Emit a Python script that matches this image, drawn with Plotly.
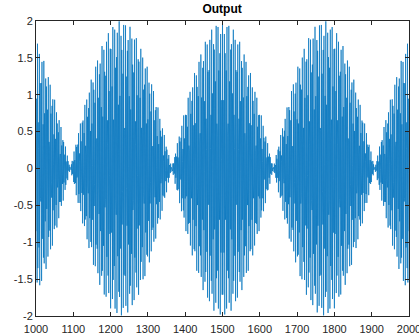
import numpy as np
import plotly.graph_objects as go

# Sample indices shown on the axis
n = np.arange(1000, 2001)

# Two equal-amplitude tones (cycles/sample) that beat against each other
tone_freqs = [0.4115, 0.4115 + 1 / 272]
tone_amps = [1.0, 1.0]
ref_sample = 1500  # both tones in phase here

y = sum(a * np.cos(2 * np.pi * f * (n - ref_sample)) for f, a in zip(tone_freqs, tone_amps))

x_ticks = list(range(1000, 2001, 100))
y_ticks = [-2, -1.5, -1, -0.5, 0, 0.5, 1, 1.5, 2]
y_tick_text = ["-2", "-1.5", "-1", "-0.5", "0", "0.5", "1", "1.5", "2"]

fig = go.Figure(go.Scatter(x=n, y=y, mode="lines",
                           line=dict(color="#0072BD", width=0.7)))

axis_common = dict(
    showline=True, linecolor="#262626", linewidth=1, mirror="allticks",
    ticks="inside", ticklen=4, tickcolor="#262626", tickwidth=1,
    showgrid=False, zeroline=False, ticklabeloverflow="allow", automargin=False,
    tickfont=dict(family="Liberation Sans, Arial, sans-serif", size=11, color="#262626"),
)

fig.update_layout(
    width=419, height=336,
    margin=dict(l=36, r=10, t=21, b=20),
    paper_bgcolor="white", plot_bgcolor="white",
    showlegend=False,
    title=dict(text="<b>Output</b>", x=0.53, xanchor="center", y=1 - 9 / 336, yanchor="middle",
               font=dict(family="Liberation Sans, Arial, sans-serif", size=12, color="black")),
    xaxis=dict(range=[1000, 2000], tickvals=x_ticks, ticklabelstandoff=3, **axis_common),
    yaxis=dict(range=[-2, 2], tickvals=y_ticks, ticktext=y_tick_text, **axis_common),
)

fig.write_html("out.html")
